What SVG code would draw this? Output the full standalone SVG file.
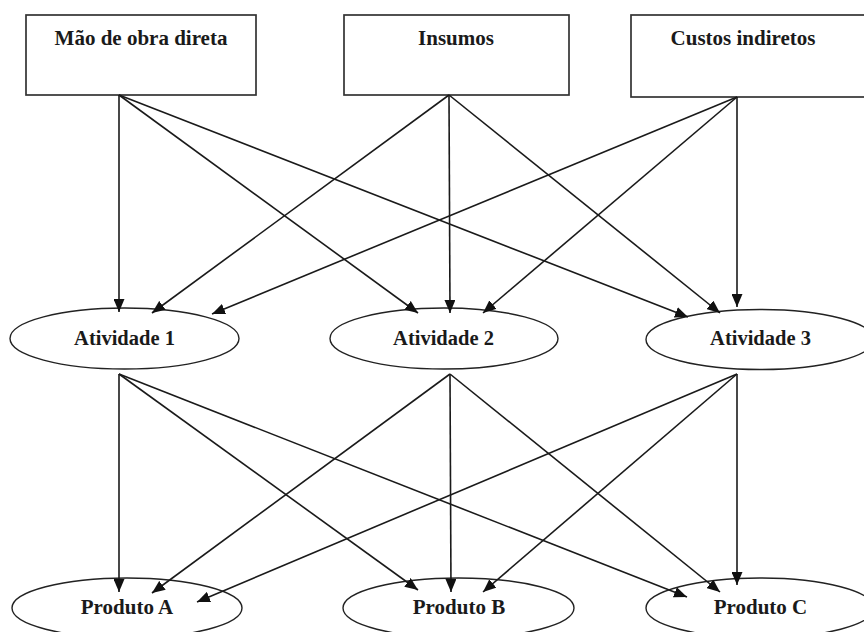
<svg xmlns="http://www.w3.org/2000/svg" width="864" height="632" viewBox="0 0 864 632">
  <defs>
    <marker id="arrow" markerUnits="userSpaceOnUse" markerWidth="13" markerHeight="11" refX="13" refY="5.5" orient="auto">
      <path d="M0,0 L13,5.5 L0,11 z" fill="#111"/>
    </marker>
    <style>
      .box { fill: #fff; stroke: #333; stroke-width: 1.7; }
      .oval { fill: #fff; stroke: #222; stroke-width: 1.4; }
      .lbl { font-family: "Liberation Serif", "Times New Roman", serif; font-weight: bold; fill: #1a1a1a; text-anchor: middle; }
      .edge { stroke: #1a1a1a; stroke-width: 1.6; fill: none; marker-end: url(#arrow); }
    </style>
  </defs>
  <rect width="864" height="632" fill="#fff"/>

  <!-- cost sources -->
  <g id="mao-de-obra">
    <rect class="box" x="26" y="15" width="230" height="80"/>
    <text class="lbl" x="141" y="45" font-size="21">Mão de obra direta</text>
  </g>
  <g id="insumos">
    <rect class="box" x="344" y="15" width="225" height="80"/>
    <text class="lbl" x="456" y="45" font-size="21">Insumos</text>
  </g>
  <g id="custos-indiretos">
    <rect class="box" x="631" y="15" width="260" height="82"/>
    <text class="lbl" x="743" y="45" font-size="21">Custos indiretos</text>
  </g>

  <!-- activities -->
  <g id="atividade-1">
    <ellipse class="oval" cx="124.5" cy="338.5" rx="114.5" ry="30.5"/>
    <text class="lbl" x="124.5" y="345" font-size="20.5">Atividade 1</text>
  </g>
  <g id="atividade-2">
    <ellipse class="oval" cx="444" cy="338.5" rx="114" ry="30.5"/>
    <text class="lbl" x="443.5" y="345" font-size="20.5">Atividade 2</text>
  </g>
  <g id="atividade-3">
    <ellipse class="oval" cx="760" cy="339.5" rx="114" ry="30"/>
    <text class="lbl" x="760.5" y="345" font-size="20.5">Atividade 3</text>
  </g>

  <!-- products -->
  <g id="produto-a">
    <ellipse class="oval" cx="127" cy="608" rx="115" ry="30"/>
    <text class="lbl" x="127" y="614" font-size="21">Produto A</text>
  </g>
  <g id="produto-b">
    <ellipse class="oval" cx="458.5" cy="608" rx="115.5" ry="30"/>
    <text class="lbl" x="459" y="614" font-size="21">Produto B</text>
  </g>
  <g id="produto-c">
    <ellipse class="oval" cx="760" cy="608" rx="114" ry="30"/>
    <text class="lbl" x="760.5" y="614" font-size="21">Produto C</text>
  </g>

  <!-- connectors -->
  <g id="connectors">
    <line class="edge" x1="119" y1="95" x2="119" y2="312"/>
    <line class="edge" x1="119" y1="95" x2="418" y2="313"/>
    <line class="edge" x1="119" y1="95" x2="688" y2="317"/>
    <line class="edge" x1="449" y1="95" x2="152" y2="313"/>
    <line class="edge" x1="449" y1="95" x2="450" y2="313"/>
    <line class="edge" x1="449" y1="95" x2="720" y2="313"/>
    <line class="edge" x1="737" y1="97" x2="212" y2="314"/>
    <line class="edge" x1="737" y1="97" x2="483" y2="313"/>
    <line class="edge" x1="737" y1="97" x2="737" y2="307"/>

    <line class="edge" x1="119" y1="374" x2="119" y2="592"/>
    <line class="edge" x1="119" y1="374" x2="418" y2="590"/>
    <line class="edge" x1="119" y1="374" x2="687" y2="597"/>
    <line class="edge" x1="450" y1="374" x2="152" y2="593"/>
    <line class="edge" x1="450" y1="374" x2="451" y2="592"/>
    <line class="edge" x1="450" y1="374" x2="720" y2="592"/>
    <line class="edge" x1="737" y1="374" x2="197" y2="602"/>
    <line class="edge" x1="737" y1="374" x2="483" y2="592"/>
    <line class="edge" x1="737" y1="374" x2="737" y2="585"/>
  </g>
</svg>
